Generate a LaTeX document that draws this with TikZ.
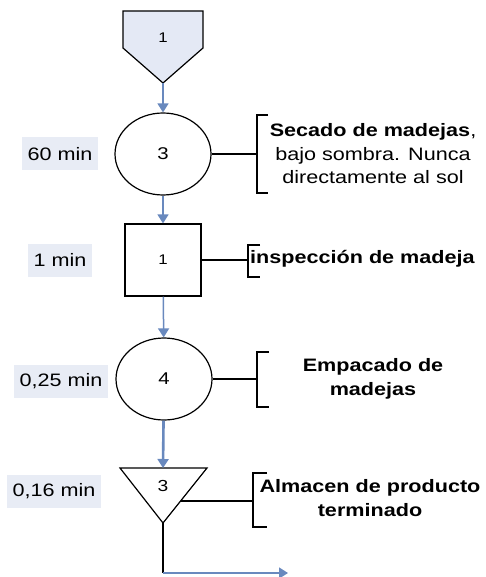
\documentclass[tikz,border=0pt]{standalone}
\usepackage{fontspec}
\setmainfont{Liberation Sans}[FakeStretch=1.2]
\usepackage{tikz}
\usetikzlibrary{positioning,shapes.geometric,arrows.meta}
\usepackage{xcolor}
\definecolor{flowblue}{RGB}{105,137,190}
\definecolor{boxfill}{RGB}{232,236,245}
\definecolor{storefill}{RGB}{228,233,245}

\begin{document}
\begin{tikzpicture}[%
    x=1pt,
    y=-1pt,
    flow/.style={%
      -{Triangle[length=9pt,width=11pt]},
      draw=flowblue,
      line width=1.5pt
    },
    proc/.style={%
      ellipse,
      draw,
      line width=1.2pt,
      minimum width=96pt,
      minimum height=82pt,
      inner sep=0pt,
      font=\fontsize{17}{20}\selectfont
    },
    inspbox/.style={%
      rectangle,
      draw,
      line width=1.2pt,
      minimum width=76pt,
      minimum height=72pt,
      inner sep=0pt,
      font=\fontsize{14}{16}\selectfont
    },
    tbox/.style={%
      fill=boxfill,
      inner xsep=6pt,
      minimum height=33pt,
      font=\fontsize{18}{20}\selectfont
    },
    note/.style={%
      align=center,
      inner sep=0pt,
      font=\fontsize{18}{23.5}\selectfont
    },
    brack/.style={%
      line width=1.2pt
    }
  ]
    \useasboundingbox (0,0) rectangle (486,577);

    % almacen inicial
    \draw[fill=storefill, line width=1.2pt] (123,11) -- (203,11) -- (203,48) -- (163,83) -- (123,48) -- cycle;
    \node[font=\fontsize{14}{16}\selectfont] (alm1) at (163,38)  {1};
    \coordinate (alm1tip) at (163,83);

    % operaciones e inspeccion
    \node[proc]    (op3)   at (163,154) {3};
    \node[inspbox] (insp1) at (163,260) {1};
    \node[proc]    (op4)   at (164,379) {4};

    % almacen final
    \draw[line width=1.2pt] (120,468) -- (207,468) -- (163,523) -- cycle;
    \node[font=\fontsize{16}{18}\selectfont] (alm3) at (163,486) {3};
    \coordinate (alm3top)  at (163,468);
    \coordinate (alm3side) at (181,501);
    \coordinate (alm3tip)  at (163,523);
    \coordinate (bend)     at (163,573);
    \coordinate (fin)      at (288,573);

    % tiempos
    \node[tbox] (t1) at (60,154) {60 min};
    \node[tbox] (t2) at (60,260) {1 min};
    \node[tbox] (t3) at (61,381) {0,25 min};
    \node[tbox] (t4) at (54,491) {0,16 min};

    % notas
    \node[note] (n1) at (373,154) {{\bfseries Secado de madejas},\\bajo sombra. Nunca\\directamente al sol};
    \node[note, font=\fontsize{18}{23.5}\selectfont\bfseries, anchor=west] (n2) at (250,259) {inspección de madeja};
    \node[note, font=\fontsize{18}{23.5}\selectfont\bfseries] (n3) at (373,379) {Empacado de\\madejas};
    \node[note, font=\fontsize{18}{23.5}\selectfont\bfseries] (n4) at (370,498) {Almacen de producto\\terminado};

    % corchetes
    \coordinate (b1) at (257,154);
    \coordinate (b2) at (248,260);
    \coordinate (b3) at (257,379);
    \coordinate (b4) at (253,501);
    \draw[brack] (268,115) -- (257,115) -- (257,193) -- (268,193);
    \draw[brack] (260,245) -- (248,245) -- (248,277) -- (260,277);
    \draw[brack] (269,352) -- (257,352) -- (257,407) -- (269,407);
    \draw[brack] (267,473) -- (253,473) -- (253,527) -- (267,527);

    \draw[brack] (op3) -- (b1);
    \draw[brack] (insp1) -- (b2);
    \draw[brack] (op4.east) -- (b3);
    \draw[brack] (alm3side) -- (b4);

    % flujo
    \draw[flow] (alm1tip) -- (op3);
    \draw[flow] (op3) -- (insp1);
    \draw[flow] (insp1) -- (op4);
    \draw[flow, line width=2.6pt] (op4) -- (alm3top);
    \draw[line width=1.2pt] (alm3tip) -- (bend);
    \draw[flow] (bend) -- (fin);
  \end{tikzpicture}
\end{document}
